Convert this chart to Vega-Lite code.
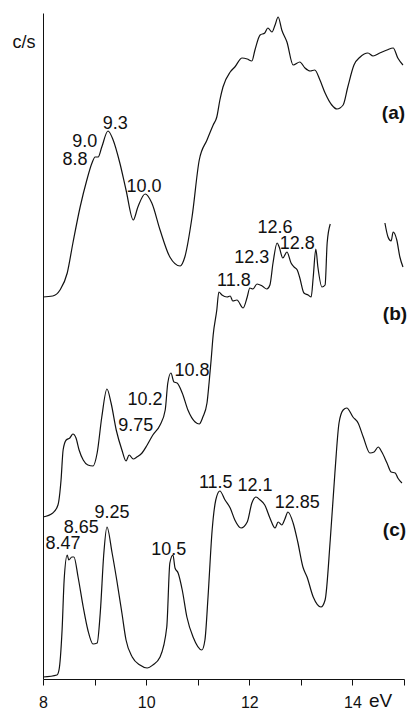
{
  "$schema": "https://vega.github.io/schema/vega-lite/v6.json",
  "width": 361,
  "height": 666,
  "autosize": "none",
  "padding": {"left": 43, "top": 13, "right": 5, "bottom": 33},
  "background": "white",
  "config": {"view": {"stroke": null}, "font": "Liberation Sans"},
  "datasets": {
    "curves": [
      {"s":"a","x":8.00,"y":382},{"s":"a","x":8.19,"y":383},{"s":"a","x":8.33,"y":389},{"s":"a","x":8.47,"y":406},{"s":"a","x":8.58,"y":436},{"s":"a","x":8.72,"y":472},{"s":"a","x":8.85,"y":499},{"s":"a","x":8.95,"y":516},{"s":"a","x":9.01,"y":522},{"s":"a","x":9.07,"y":522},{"s":"a","x":9.14,"y":532},{"s":"a","x":9.26,"y":548},{"s":"a","x":9.36,"y":539},{"s":"a","x":9.49,"y":516},{"s":"a","x":9.61,"y":489},{"s":"a","x":9.75,"y":459},{"s":"a","x":9.84,"y":472},{"s":"a","x":9.98,"y":485},{"s":"a","x":10.11,"y":476},{"s":"a","x":10.27,"y":449},{"s":"a","x":10.46,"y":422},{"s":"a","x":10.66,"y":413},{"s":"a","x":10.75,"y":422},{"s":"a","x":10.89,"y":462},{"s":"a","x":11.03,"y":519},{"s":"a","x":11.18,"y":539},{"s":"a","x":11.30,"y":554},{"s":"a","x":11.37,"y":562},{"s":"a","x":11.43,"y":579},{"s":"a","x":11.49,"y":592},{"s":"a","x":11.63,"y":607},{"s":"a","x":11.72,"y":612},{"s":"a","x":11.86,"y":621},{"s":"a","x":11.96,"y":620},{"s":"a","x":12.05,"y":618},{"s":"a","x":12.11,"y":629},{"s":"a","x":12.21,"y":644},{"s":"a","x":12.30,"y":646},{"s":"a","x":12.36,"y":651},{"s":"a","x":12.44,"y":647},{"s":"a","x":12.50,"y":654},{"s":"a","x":12.56,"y":662},{"s":"a","x":12.63,"y":649},{"s":"a","x":12.73,"y":637},{"s":"a","x":12.85,"y":614},{"s":"a","x":12.98,"y":617},{"s":"a","x":13.08,"y":611},{"s":"a","x":13.18,"y":608},{"s":"a","x":13.27,"y":609},{"s":"a","x":13.37,"y":599},{"s":"a","x":13.47,"y":586},{"s":"a","x":13.60,"y":574},{"s":"a","x":13.70,"y":570},{"s":"a","x":13.82,"y":574},{"s":"a","x":13.91,"y":592},{"s":"a","x":14.03,"y":614},{"s":"a","x":14.15,"y":622},{"s":"a","x":14.30,"y":626},{"s":"a","x":14.40,"y":623},{"s":"a","x":14.53,"y":626},{"s":"a","x":14.67,"y":629},{"s":"a","x":14.79,"y":631},{"s":"a","x":14.88,"y":621},{"s":"a","x":14.98,"y":614},
      {"s":"b1","x":8.00,"y":162},{"s":"b1","x":8.19,"y":166},{"s":"b1","x":8.29,"y":174},{"s":"b1","x":8.35,"y":199},{"s":"b1","x":8.39,"y":229},{"s":"b1","x":8.45,"y":239},{"s":"b1","x":8.52,"y":241},{"s":"b1","x":8.58,"y":245},{"s":"b1","x":8.64,"y":241},{"s":"b1","x":8.70,"y":229},{"s":"b1","x":8.78,"y":219},{"s":"b1","x":8.87,"y":214},{"s":"b1","x":8.97,"y":213},{"s":"b1","x":9.05,"y":226},{"s":"b1","x":9.14,"y":262},{"s":"b1","x":9.24,"y":290},{"s":"b1","x":9.32,"y":276},{"s":"b1","x":9.42,"y":249},{"s":"b1","x":9.53,"y":229},{"s":"b1","x":9.61,"y":218},{"s":"b1","x":9.67,"y":224},{"s":"b1","x":9.75,"y":220},{"s":"b1","x":9.82,"y":222},{"s":"b1","x":9.92,"y":226},{"s":"b1","x":10.02,"y":234},{"s":"b1","x":10.13,"y":244},{"s":"b1","x":10.27,"y":254},{"s":"b1","x":10.37,"y":269},{"s":"b1","x":10.42,"y":296},{"s":"b1","x":10.48,"y":306},{"s":"b1","x":10.54,"y":297},{"s":"b1","x":10.60,"y":296},{"s":"b1","x":10.70,"y":286},{"s":"b1","x":10.81,"y":269},{"s":"b1","x":10.95,"y":257},{"s":"b1","x":11.03,"y":255},{"s":"b1","x":11.10,"y":262},{"s":"b1","x":11.18,"y":276},{"s":"b1","x":11.22,"y":296},{"s":"b1","x":11.26,"y":319},{"s":"b1","x":11.30,"y":344},{"s":"b1","x":11.37,"y":369},{"s":"b1","x":11.41,"y":387},{"s":"b1","x":11.47,"y":384},{"s":"b1","x":11.57,"y":382},{"s":"b1","x":11.63,"y":383},{"s":"b1","x":11.68,"y":378},{"s":"b1","x":11.76,"y":379},{"s":"b1","x":11.88,"y":371},{"s":"b1","x":11.96,"y":382},{"s":"b1","x":12.01,"y":391},{"s":"b1","x":12.07,"y":390},{"s":"b1","x":12.15,"y":395},{"s":"b1","x":12.25,"y":393},{"s":"b1","x":12.34,"y":390},{"s":"b1","x":12.40,"y":394},{"s":"b1","x":12.46,"y":416},{"s":"b1","x":12.54,"y":436},{"s":"b1","x":12.58,"y":432},{"s":"b1","x":12.65,"y":421},{"s":"b1","x":12.73,"y":427},{"s":"b1","x":12.81,"y":416},{"s":"b1","x":12.87,"y":412},{"s":"b1","x":12.93,"y":409},{"s":"b1","x":12.98,"y":401},{"s":"b1","x":13.06,"y":386},{"s":"b1","x":13.14,"y":384},{"s":"b1","x":13.20,"y":382},{"s":"b1","x":13.24,"y":402},{"s":"b1","x":13.29,"y":430},{"s":"b1","x":13.33,"y":412},{"s":"b1","x":13.41,"y":392},{"s":"b1","x":13.47,"y":394},{"s":"b1","x":13.51,"y":436},{"s":"b1","x":13.57,"y":455},
      {"s":"b2","x":14.63,"y":456},{"s":"b2","x":14.69,"y":442},{"s":"b2","x":14.75,"y":438},{"s":"b2","x":14.79,"y":447},{"s":"b2","x":14.86,"y":439},{"s":"b2","x":14.92,"y":422},{"s":"b2","x":14.98,"y":412},
      {"s":"c","x":8.00,"y":2},{"s":"c","x":8.27,"y":4},{"s":"c","x":8.31,"y":9},{"s":"c","x":8.37,"y":49},{"s":"c","x":8.41,"y":99},{"s":"c","x":8.47,"y":124},{"s":"c","x":8.50,"y":119},{"s":"c","x":8.56,"y":122},{"s":"c","x":8.60,"y":122},{"s":"c","x":8.68,"y":102},{"s":"c","x":8.78,"y":72},{"s":"c","x":8.87,"y":49},{"s":"c","x":8.97,"y":35},{"s":"c","x":9.05,"y":36},{"s":"c","x":9.11,"y":66},{"s":"c","x":9.18,"y":126},{"s":"c","x":9.24,"y":152},{"s":"c","x":9.34,"y":126},{"s":"c","x":9.43,"y":99},{"s":"c","x":9.53,"y":66},{"s":"c","x":9.61,"y":39},{"s":"c","x":9.73,"y":22},{"s":"c","x":9.88,"y":14},{"s":"c","x":10.02,"y":11},{"s":"c","x":10.13,"y":14},{"s":"c","x":10.27,"y":22},{"s":"c","x":10.40,"y":52},{"s":"c","x":10.46,"y":116},{"s":"c","x":10.52,"y":124},{"s":"c","x":10.56,"y":111},{"s":"c","x":10.62,"y":106},{"s":"c","x":10.70,"y":89},{"s":"c","x":10.79,"y":62},{"s":"c","x":10.91,"y":42},{"s":"c","x":11.08,"y":29},{"s":"c","x":11.14,"y":39},{"s":"c","x":11.20,"y":82},{"s":"c","x":11.28,"y":149},{"s":"c","x":11.35,"y":179},{"s":"c","x":11.43,"y":188},{"s":"c","x":11.53,"y":179},{"s":"c","x":11.63,"y":171},{"s":"c","x":11.72,"y":159},{"s":"c","x":11.84,"y":151},{"s":"c","x":11.96,"y":157},{"s":"c","x":12.05,"y":176},{"s":"c","x":12.13,"y":182},{"s":"c","x":12.21,"y":179},{"s":"c","x":12.30,"y":174},{"s":"c","x":12.40,"y":161},{"s":"c","x":12.50,"y":151},{"s":"c","x":12.56,"y":157},{"s":"c","x":12.63,"y":154},{"s":"c","x":12.69,"y":160},{"s":"c","x":12.75,"y":167},{"s":"c","x":12.85,"y":156},{"s":"c","x":12.94,"y":137},{"s":"c","x":13.04,"y":112},{"s":"c","x":13.12,"y":102},{"s":"c","x":13.24,"y":82},{"s":"c","x":13.39,"y":72},{"s":"c","x":13.47,"y":79},{"s":"c","x":13.57,"y":139},{"s":"c","x":13.66,"y":206},{"s":"c","x":13.74,"y":256},{"s":"c","x":13.82,"y":269},{"s":"c","x":13.89,"y":271},{"s":"c","x":14.01,"y":262},{"s":"c","x":14.11,"y":256},{"s":"c","x":14.21,"y":242},{"s":"c","x":14.34,"y":226},{"s":"c","x":14.42,"y":227},{"s":"c","x":14.50,"y":232},{"s":"c","x":14.57,"y":227},{"s":"c","x":14.67,"y":216},{"s":"c","x":14.75,"y":207},{"s":"c","x":14.83,"y":206},{"s":"c","x":14.88,"y":201},{"s":"c","x":14.96,"y":196}
    ],
    "peaks": [
      {"t":"8.8","x":8.62,"y":519},{"t":"9.0","x":8.81,"y":537},{"t":"9.3","x":9.40,"y":555},{"t":"10.0","x":9.96,"y":492},
      {"t":"12.6","x":12.50,"y":451},{"t":"12.8","x":12.93,"y":435},{"t":"12.3","x":12.05,"y":421},{"t":"11.8","x":11.70,"y":398},{"t":"10.8","x":10.89,"y":308},{"t":"10.2","x":9.98,"y":279},{"t":"9.75","x":9.80,"y":253},
      {"t":"11.5","x":11.35,"y":196},{"t":"12.1","x":12.11,"y":193},{"t":"12.85","x":12.93,"y":176},{"t":"9.25","x":9.34,"y":166},{"t":"8.65","x":8.74,"y":151},{"t":"8.47","x":8.39,"y":135},{"t":"10.5","x":10.44,"y":129}
    ],
    "panels": [
      {"t":"(a)","x":14.57,"y":566},{"t":"(b)","x":14.59,"y":365},{"t":"(c)","x":14.59,"y":149}
    ]
  },
  "layer": [
    {
      "data": {"name": "curves"},
      "mark": {"type": "line", "color": "#111111", "strokeWidth": 1.2, "interpolate": "monotone", "clip": false},
      "encoding": {
        "x": {
          "field": "x", "type": "quantitative",
          "scale": {"domain": [8, 15], "nice": false, "zero": false},
          "axis": {
            "values": [8, 9, 10, 11, 12, 13, 14, 15],
            "format": "d",
            "labelExpr": "datum.value % 2 == 0 ? datum.label : ''",
            "grid": false, "tickSize": 6, "labelPadding": 9, "labelFlush": false,
            "labelFontSize": 16, "labelFont": "Liberation Sans", "labelColor": "#111111",
            "domainColor": "#111111", "tickColor": "#111111", "labelOverlap": false,
            "title": "eV", "titleX": 337, "titleY": 27, "titleBaseline": "alphabetic", "titleAlign": "center",
            "titleFontSize": 19, "titleFontWeight": "normal", "titleFont": "Liberation Sans", "titleColor": "#111111"
          }
        },
        "y": {
          "field": "y", "type": "quantitative",
          "scale": {"domain": [0, 666], "nice": false},
          "axis": {
            "ticks": false, "labels": false, "grid": false, "domainColor": "#111111",
            "title": "c/s", "titleAngle": 0, "titleX": -19.5, "titleY": 34, "titleBaseline": "alphabetic", "titleAlign": "center",
            "titleFontSize": 18, "titleFontWeight": "normal", "titleFont": "Liberation Sans", "titleColor": "#111111"
          }
        },
        "detail": {"field": "s", "type": "nominal"}
      }
    },
    {
      "data": {"name": "peaks"},
      "mark": {"type": "text", "fontSize": 18, "font": "Liberation Sans", "color": "#111111", "align": "center", "baseline": "middle"},
      "encoding": {
        "x": {"field": "x", "type": "quantitative"},
        "y": {"field": "y", "type": "quantitative"},
        "text": {"field": "t", "type": "nominal"}
      }
    },
    {
      "data": {"name": "panels"},
      "mark": {"type": "text", "fontSize": 19, "fontWeight": "bold", "font": "Liberation Sans", "color": "#111111", "align": "left", "baseline": "middle"},
      "encoding": {
        "x": {"field": "x", "type": "quantitative"},
        "y": {"field": "y", "type": "quantitative"},
        "text": {"field": "t", "type": "nominal"}
      }
    }
  ]
}
